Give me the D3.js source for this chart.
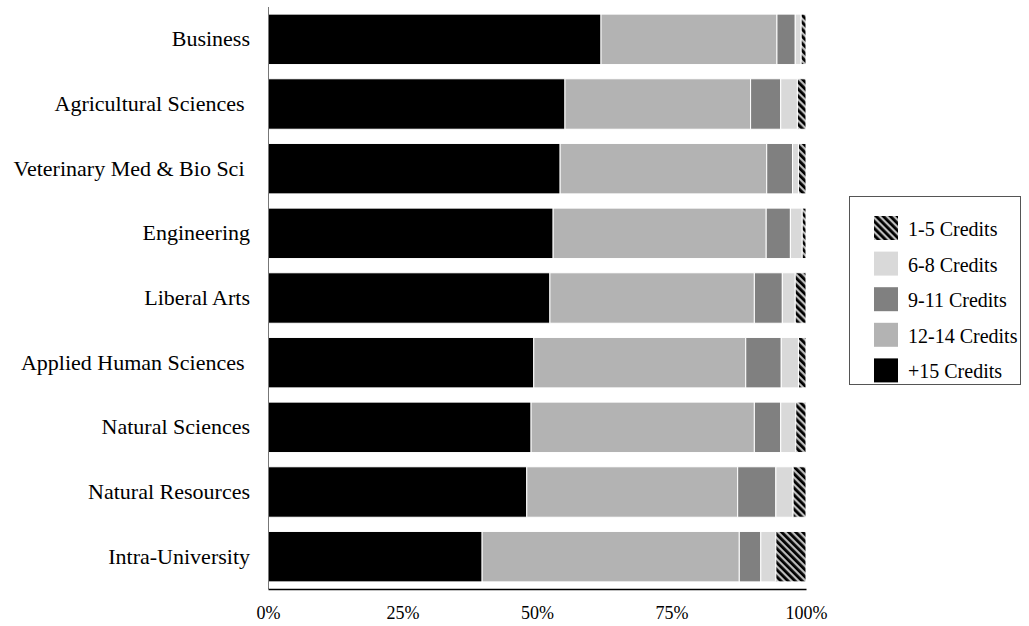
<!DOCTYPE html>
<html>
<head>
<meta charset="utf-8">
<script src="https://cdn.jsdelivr.net/npm/d3@7"></script>
<style>
  body { margin: 0; background: #fff; }
  text { font-family: "Liberation Serif", serif; fill: #000; }
</style>
</head>
<body>
<svg width="1029" height="626"></svg>
<script>
// colleges, top to bottom
let colleges = ["Business", "Agricultural Sciences ", "Veterinary Med & Bio Sci ", "Engineering",
  "Liberal Arts", "Applied Human Sciences ", "Natural Sciences", "Natural Resources", "Intra-University"];

// credit groups, in stack order from the left
let groups = ["+15 Credits", "12-14 Credits", "9-11 Credits", "6-8 Credits", "1-5 Credits"];

// percent of students per group
let credits15 = [61.9, 55.2, 54.3, 53.0, 52.4, 49.4, 48.9, 48.1, 39.8];
let credits12 = [32.7, 34.5, 38.4, 39.6, 38.0, 39.4, 41.5, 39.2, 47.8];
let credits9 = [3.4, 5.6, 4.8, 4.5, 5.2, 6.6, 4.9, 7.1, 4.0];
let credits6 = [1.1, 3.1, 1.1, 2.2, 2.4, 3.2, 2.8, 3.2, 2.8];
let credits1 = [0.9, 1.6, 1.4, 0.7, 2.0, 1.4, 1.9, 2.4, 5.6];

let xTicks = [0, 25, 50, 75, 100];

let rows = colleges.map((c, i) => ({
  college: c,
  "+15 Credits": credits15[i],
  "12-14 Credits": credits12[i],
  "9-11 Credits": credits9[i],
  "6-8 Credits": credits6[i],
  "1-5 Credits": credits1[i]
}));

let svg = d3.select("svg");

let defs = svg.append("defs");
let pat = defs.append("pattern")
  .attr("id", "hatch")
  .attr("patternUnits", "userSpaceOnUse")
  .attr("width", 5)
  .attr("height", 5)
  .attr("patternTransform", "rotate(-45)");
pat.append("rect").attr("width", 5).attr("height", 5).attr("fill", "#bdbdbd");
pat.append("rect").attr("width", 2.8).attr("height", 5).attr("fill", "#000");

let color = d3.scaleOrdinal()
  .domain(groups)
  .range(["#000000", "#b3b3b3", "#808080", "#d9d9d9", "url(#hatch)"]);

let x = d3.scaleLinear().domain([0, 100]).range([268, 806]);
let y = d3.scaleBand()
  .domain(colleges)
  .range([7, 589])
  .paddingInner(0.22)
  .paddingOuter(0.11);

let stack = d3.stack().keys(groups);
let series = stack(rows);

let layer = svg.selectAll(".layer")
  .data(series)
  .enter()
  .append("g")
  .classed("layer", true)
  .attr("fill", d => color(d.key));

layer.selectAll("rect")
  .data(d => d)
  .enter()
  .append("rect")
  .attr("x", d => x(d[0]))
  .attr("y", d => y(d.data.college))
  .attr("width", d => Math.max(0, x(d[1]) - x(d[0])))
  .attr("height", y.bandwidth())
  .attr("stroke", "#fff")
  .attr("stroke-width", 1);

// y axis: labels only, grey line
let yAxis = svg.append("g")
  .attr("transform", "translate(268,0)")
  .call(d3.axisLeft(y).tickSize(0).tickPadding(18));
yAxis.select(".domain").attr("stroke", "#777").attr("d", "M0.5,7V589");
yAxis.selectAll("text")
  .style("font-family", "Liberation Serif, serif")
  .style("font-size", "22px")
  .style("white-space", "pre")
  .attr("fill", "#000");

// x axis
let xAxis = svg.append("g")
  .attr("transform", "translate(0,589)")
  .call(d3.axisBottom(x).tickValues(xTicks).tickFormat(d => d + "%").tickSize(0).tickPadding(17));
xAxis.select(".domain").attr("stroke", "#000").attr("stroke-width", 1.5);
xAxis.selectAll("text")
  .style("font-family", "Liberation Serif, serif")
  .style("font-size", "18px")
  .attr("fill", "#000");

// legend
let legend = svg.append("g").attr("transform", "translate(849,196)");
legend.append("rect")
  .attr("x", 0.5).attr("y", 0.5)
  .attr("width", 171).attr("height", 188)
  .attr("fill", "#fff")
  .attr("stroke", "#555");

let legendOrder = groups.slice().reverse();
let item = legend.selectAll(".item")
  .data(legendOrder)
  .enter()
  .append("g")
  .classed("item", true)
  .attr("transform", (d, i) => "translate(25," + (20 + i * 35.6) + ")");
item.append("rect")
  .attr("width", 24)
  .attr("height", 24)
  .attr("fill", d => color(d));
item.append("text")
  .attr("x", 34)
  .attr("y", 13)
  .attr("dy", "0.35em")
  .style("font-size", "20px")
  .text(d => d);
</script>
</body>
</html>
